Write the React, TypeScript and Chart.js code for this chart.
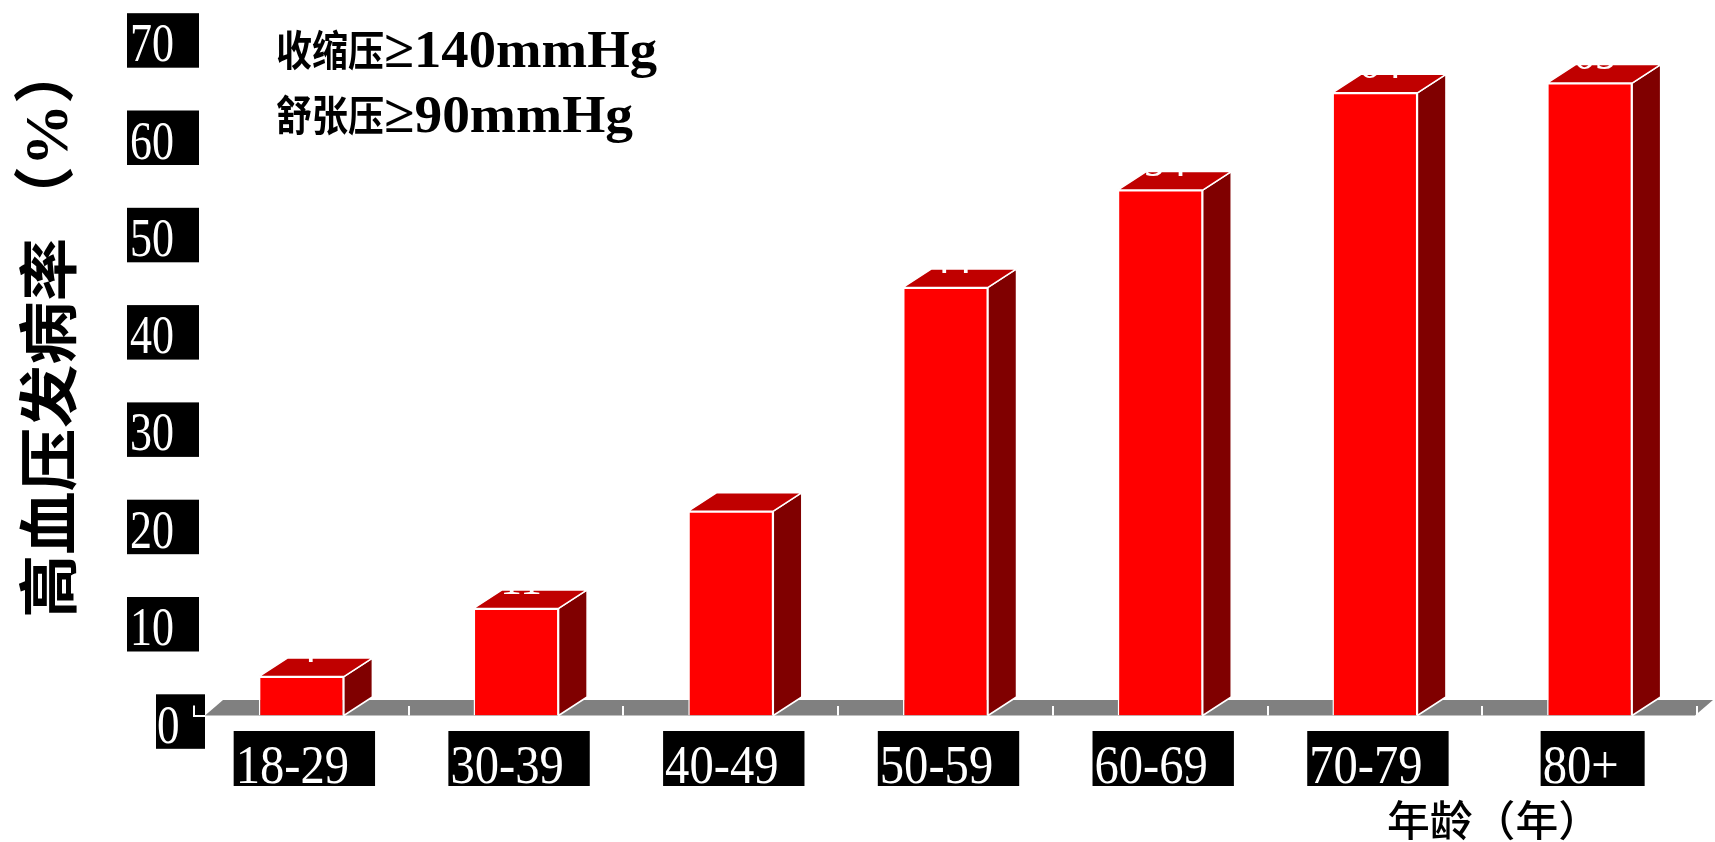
import React, { useEffect, useRef } from "react";
import { Chart, registerables } from "chart.js";

Chart.register(...registerables);

const categories = ["18-29", "30-39", "40-49", "50-59", "60-69", "70-79", "80+"];
const prevalence = [4, 11, 21, 44, 54, 64, 65];
const valueLabels = ["4", "11", "21", "44", "54", "64", "65"];
const labelLift = [0, 0, 14, 0, 0, 0, 0];
const yTicks = [0, 10, 20, 30, 40, 50, 60, 70];
const yTitleMain = "高血压发病率";
const yTitleUnit = "（%）";
const xTitle = "年龄（年）";
const noteCjk = ["收缩压", "舒张压"];
const noteLatin = ["≥140mmHg", "≥90mmHg"];

const DX = 28.5;
const DY = -18.5;

function drawScaled(
  ctx: CanvasRenderingContext2D,
  text: string,
  x: number,
  y: number,
  font: string,
  sx: number,
  align: CanvasTextAlign,
  color: string
) {
  ctx.save();
  ctx.font = font;
  ctx.fillStyle = color;
  ctx.textAlign = align;
  ctx.textBaseline = "alphabetic";
  ctx.translate(x, y);
  ctx.scale(sx, 1);
  ctx.fillText(text, 0, 0);
  ctx.restore();
}

function measure(ctx: CanvasRenderingContext2D, text: string, font: string) {
  ctx.save();
  ctx.font = font;
  const w = ctx.measureText(text).width;
  ctx.restore();
  return w;
}

const floorPlugin = {
  id: "floor3d",
  beforeDatasetsDraw(chart: any) {
    const { ctx, chartArea } = chart;
    const yb = chart.scales.y.getPixelForValue(0);
    ctx.save();
    ctx.fillStyle = "#808080";
    ctx.beginPath();
    ctx.moveTo(205, yb);
    ctx.lineTo(chartArea.right - 2, yb);
    ctx.lineTo(chartArea.right + 16, yb - 15.5);
    ctx.lineTo(223, yb - 15.5);
    ctx.closePath();
    ctx.fill();
    const catW = (chartArea.right - chartArea.left) / categories.length;
    ctx.strokeStyle = "#ffffff";
    ctx.lineWidth = 2;
    for (let k = 1; k <= categories.length; k++) {
      const x = Math.round(chartArea.left + k * catW);
      ctx.beginPath();
      ctx.moveTo(x, yb - 9.5);
      ctx.lineTo(x, yb);
      ctx.stroke();
    }
    ctx.restore();
  },
};

const bars3dPlugin = {
  id: "bars3d",
  afterDatasetsDraw(chart: any) {
    const { ctx } = chart;
    const meta = chart.getDatasetMeta(0);
    ctx.save();
    meta.data.forEach((el: any, i: number) => {
      const { x, y, base, width } = el.getProps(["x", "y", "base", "width"], true);
      const L = x - width / 2;
      const R = x + width / 2;
      ctx.lineWidth = 1.5;
      ctx.strokeStyle = "#ffffff";
      ctx.lineJoin = "round";
      ctx.fillStyle = "#800000";
      ctx.beginPath();
      ctx.moveTo(R, y);
      ctx.lineTo(R + DX, y + DY);
      ctx.lineTo(R + DX, base + DY);
      ctx.lineTo(R, base);
      ctx.closePath();
      ctx.fill();
      ctx.stroke();
      ctx.fillStyle = "#C00000";
      ctx.beginPath();
      ctx.moveTo(L, y);
      ctx.lineTo(R, y);
      ctx.lineTo(R + DX, y + DY);
      ctx.lineTo(L + DX, y + DY);
      ctx.closePath();
      ctx.fill();
      ctx.stroke();
      drawScaled(
        ctx,
        valueLabels[i],
        x + 5,
        y + DY + 4 - labelLift[i],
        "48px 'Liberation Serif', serif",
        0.9,
        "center",
        "#ffffff"
      );
    });
    ctx.restore();
  },
};

const textPlugin = {
  id: "texts",
  afterDraw(chart: any) {
    const { ctx } = chart;
    const ys = chart.scales.y;
    const xsMeta = chart.getDatasetMeta(0);
    ctx.save();

    // Y tick labels in black boxes
    const tickFont = "55px 'Liberation Serif', serif";
    yTicks.forEach((v) => {
      const py = ys.getPixelForValue(v) + 5.8;
      ctx.fillStyle = "#000";
      if (v === 0) {
        ctx.fillRect(156, py - 27, 49, 54.5);
        drawScaled(ctx, String(v), 157, py + 22, tickFont, 0.82, "left", "#fff");
      } else {
        ctx.fillRect(127, py - 27, 72, 54.5);
        drawScaled(ctx, String(v), 130, py + 21, tickFont, 0.8, "left", "#fff");
      }
    });

    // white axis corner mark
    const yb = ys.getPixelForValue(0);
    ctx.strokeStyle = "#fff";
    ctx.lineWidth = 2;
    ctx.beginPath();
    ctx.moveTo(194, yb - 10);
    ctx.lineTo(194, yb + 0.5);
    ctx.lineTo(205, yb + 0.5);
    ctx.stroke();

    // X tick labels in black boxes
    const xFont = "54px 'Liberation Serif', serif";
    const xsx = 0.9;
    xsMeta.data.forEach((el: any, i: number) => {
      const cx = el.x + 3;
      const tw = measure(ctx, categories[i], xFont) * xsx;
      const bw = tw + 28;
      const left = cx - bw / 2;
      ctx.fillStyle = "#000";
      ctx.fillRect(left, 731, bw, 55);
      drawScaled(ctx, categories[i], left + 2, 783, xFont, xsx, "left", "#fff");
    });

    // X title
    const xtFont = "500 42px 'Noto Sans CJK SC', sans-serif";
    drawScaled(ctx, xTitle, 1387, 836, xtFont, 214 / measure(ctx, xTitle, xtFont), "left", "#000");

    // Y title (rotated): CJK part then unit
    ctx.save();
    const yFont = "bold 60px 'Noto Sans CJK SC', sans-serif";
    const uFont = "bold 58px 'Liberation Serif', 'Noto Sans CJK SC', serif";
    const mw = measure(ctx, yTitleMain, yFont);
    const msx = 380 / mw;
    ctx.translate(71, 618);
    ctx.rotate(-Math.PI / 2);
    ctx.fillStyle = "#000";
    ctx.textBaseline = "alphabetic";
    ctx.textAlign = "left";
    ctx.save();
    ctx.font = yFont;
    ctx.scale(msx, 1);
    ctx.fillText(yTitleMain, 0, 0);
    ctx.restore();
    ctx.save();
    ctx.font = uFont;
    const uw = ctx.measureText(yTitleUnit).width;
    ctx.translate(390, -4);
    ctx.scale(186 / uw, 1.06);
    ctx.fillText(yTitleUnit, 0, 0);
    ctx.restore();
    ctx.restore();

    // Annotation
    const cjkFont = "bold 42px 'Noto Sans CJK SC', sans-serif";
    const latFont = "bold 53px 'Liberation Serif', serif";
    const baselines = [67, 132];
    const latWidths = [273, 249];
    noteCjk.forEach((t, i) => {
      drawScaled(ctx, t, 276, baselines[i] - 1, cjkFont, 108 / measure(ctx, t, cjkFont), "left", "#000");
      drawScaled(
        ctx,
        noteLatin[i],
        384,
        baselines[i],
        latFont,
        latWidths[i] / measure(ctx, noteLatin[i], latFont),
        "left",
        "#000"
      );
    });

    ctx.restore();
  },
};

export default function App() {
  const canvasRef = useRef<HTMLCanvasElement | null>(null);

  useEffect(() => {
    if (!canvasRef.current) return;
    const chart = new Chart(canvasRef.current, {
      type: "bar",
      data: {
        labels: categories,
        datasets: [
          {
            data: prevalence,
            backgroundColor: "#FF0000",
            borderColor: "#FFFFFF",
            borderWidth: 1.5,
            barPercentage: 0.396,
            categoryPercentage: 1,
          },
        ],
      },
      options: {
        responsive: false,
        animation: false,
        layout: { padding: { left: 194, right: 18, top: 34.4, bottom: 126.5 } },
        plugins: {
          legend: { display: false },
          tooltip: { enabled: false },
          title: { display: false },
        },
        scales: {
          x: { display: false, offset: true, grid: { display: false } },
          y: { display: false, min: 0, max: 70, grid: { display: false } },
        },
      },
      plugins: [floorPlugin, bars3dPlugin, textPlugin],
    });
    return () => chart.destroy();
  }, []);

  return (
    <div style={{ position: "fixed", left: 0, top: 0, width: 1715, height: 842, background: "#fff" }}>
      <canvas ref={canvasRef} width={1715} height={842} style={{ display: "block", width: 1715, height: 842 }} />
    </div>
  );
}
